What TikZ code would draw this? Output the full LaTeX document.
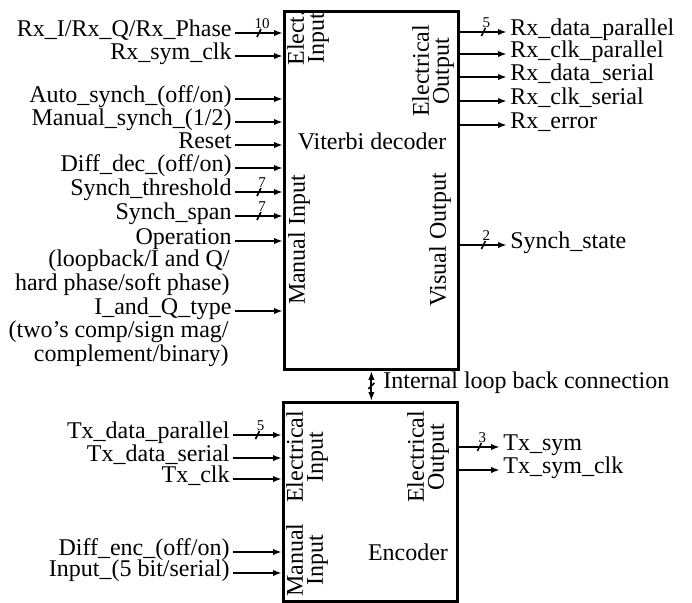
\documentclass[tikz,border=0pt]{standalone}
\usepackage{fontspec}
\setmainfont{Liberation Serif}
\usetikzlibrary{arrows.meta, positioning, calc}
\tikzset{
  block/.style={rectangle, draw=black, line width=1.4pt, anchor=north west, inner sep=0pt},
  lbl/.style={font=\fontsize{12}{11.5}\selectfont, inner xsep=1.5pt, inner ysep=0pt, text height=0.55em, text depth=0.22em},
  inlbl/.style={lbl, anchor=east},
  outlbl/.style={lbl, anchor=west},
  note/.style={font=\fontsize{12}{11.5}\selectfont, inner xsep=1.5pt, inner ysep=0pt, text height=0.55em, text depth=0.22em, anchor=base east},
  side/.style={rotate=90, align=center, inner sep=0pt, font=\fontsize{12}{10}\selectfont},
  sig/.style={line width=1pt, -{Latex[length=4.5pt,width=3.2pt]}},
  bisig/.style={line width=1pt, {Latex[length=4.5pt,width=3.2pt]}-{Latex[length=4.5pt,width=3.2pt]}},
  tick/.style={line width=0.8pt},
  busnum/.style={font=\fontsize{7.5}{8}\selectfont, inner sep=0.5pt, anchor=south}
}
\newcommand{\bustick}[2]{%
  \draw[tick] ([shift={(-2,4)}]#1) -- ([shift={(2,-4)}]#1);
  \node[busnum] at ([shift={(3,-3)}]#1) {#2};
}

\begin{document}
\begin{tikzpicture}[x=0.5pt, y=-0.5pt]
    \useasboundingbox (0,0) rectangle (692,602);

    % 1. Bloques
    \node[block, minimum width=87pt, minimum height=179pt] (dec) at (283,10) {};
    \node[block, minimum width=87pt, minimum height=99.5pt] (enc) at (282,401) {};
    \node[lbl] (dectitle) at (372,146) {Viterbi decoder};
    \node[lbl] (enctitle) at (408,557) {Encoder};

    % Etiquetas laterales
    \node[side] (decein) at (308,38) {Elect.\\Input};
    \node[side] (decmin) at (299,240) {Manual Input};
    \node[side] (deceout) at (433,71) {Electrical\\Output};
    \node[side] (decvout) at (440,240) {Visual Output};
    \node[side] (encein) at (307,457) {Electrical\\Input};
    \node[side] (encmin) at (307,560) {Manual\\Input};
    \node[side] (enceout) at (428,457) {Electrical\\Output};

    % 2. Entradas del decodificador
    \foreach \y/\n/\txt in {
        33/rxiq/{Rx\_I/Rx\_Q/Rx\_Phase}, 56/rxclk/Rx\_sym\_clk,
        99/autos/{Auto\_synch\_(off/on)}, 122/mans/{Manual\_synch\_(1/2)},
        145/reset/Reset, 168/diffd/{Diff\_dec\_(off/on)},
        192/thr/Synch\_threshold, 216/span/Synch\_span,
        241/oper/Operation, 311/iqt/I\_and\_Q\_type
    } {
        \node[inlbl] (\n) at (235,\y) {\txt};
        \draw[sig] (\n.east) -- coordinate[pos=.5] (\n-m) (\n.east -| dec.west);
    }
    \bustick{rxiq-m}{10}
    \bustick{thr-m}{7}
    \bustick{span-m}{7}

    \node[note] (oper1) at (233,266) {(loopback/I and Q/};
    \node[note] (oper2) at (233,290) {hard phase/soft phase)};
    \node[note] (iqt1) at (232,337) {(two's comp/sign mag/};
    \node[note] (iqt2) at (232,361) {complement/binary)};

    % 3. Salidas del decodificador
    \foreach \y/\n/\txt in {
        32/rxdp/Rx\_data\_parallel, 54/rxcp/Rx\_clk\_parallel,
        77/rxds/Rx\_data\_serial, 101/rxcs/Rx\_clk\_serial,
        125/rxerr/Rx\_error, 245/sstate/Synch\_state
    } {
        \node[outlbl] (\n) at (507,\y) {\txt};
        \draw[sig] (\n.west -| dec.east) -- coordinate[pos=.5] (\n-m) (\n.west);
    }
    \bustick{rxdp-m}{5}
    \bustick{sstate-m}{2}

    % 4. Conexion interna
    \draw[bisig] (dec.south) -- coordinate[pos=.5] (loop-m) (dec.south |- enc.north);
    \draw[tick] ([shift={(-3,3)}]loop-m) -- ([shift={(3,-3)}]loop-m);
    \node[outlbl] (looptxt) at (380,385) {Internal loop back connection};

    % 5. Entradas y salidas del codificador
    \foreach \y/\n/\txt in {
        435/txdp/Tx\_data\_parallel, 458/txds/Tx\_data\_serial,
        479/txclk/Tx\_clk, 552/diffe/{Diff\_enc\_(off/on)},
        573/inp/{Input\_(5 bit/serial)}
    } {
        \node[inlbl] (\n) at (233,\y) {\txt};
        \draw[sig] (\n.east) -- coordinate[pos=.5] (\n-m) (\n.east -| enc.west);
    }
    \bustick{txdp-m}{5}

    \foreach \y/\n/\txt in {447/txsym/Tx\_sym, 470/txsclk/Tx\_sym\_clk} {
        \node[outlbl] (\n) at (500,\y) {\txt};
        \draw[sig] (\n.west -| enc.east) -- coordinate[pos=.5] (\n-m) (\n.west);
    }
    \bustick{txsym-m}{3}

\end{tikzpicture}
\end{document}
